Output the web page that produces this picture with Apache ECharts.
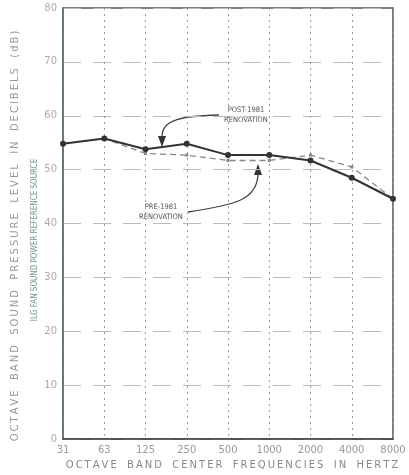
<!DOCTYPE html>
<html><head><meta charset="utf-8">
<script src="https://cdn.jsdelivr.net/npm/echarts@6/dist/echarts.min.js"></script>
<style>html,body{margin:0;padding:0;background:#fff}#c{width:409px;height:475px}</style>
</head><body><div id="c"></div>
<script>
const categories = ['31','63','125','250','500','1000','2000','4000','8000'];
const post1981 = [54.8, 55.8, 53.8, 54.8, 52.7, 52.7, 51.7, 48.5, 44.6];
const pre1981  = [54.8, 55.8, 53.0, 52.7, 51.7, 51.7, 52.7, 50.5, 44.6];
const yTicks = [0, 10, 20, 30, 40, 50, 60, 70, 80];
const yTitle = 'OCTAVE BAND SOUND PRESSURE LEVEL IN DECIBELS (dB)';
const yTitle2 = 'ILG FAN SOUND POWER REFERENCE SOURCE';
const xTitle = 'OCTAVE BAND CENTER FREQUENCIES IN HERTZ';

function spaced(s) {
  return s.split(' ').map(w => w.split('').join('\u2009')).join('\u2009\u2009  ');
}

const chart = echarts.init(document.getElementById('c'));
const font = 'DejaVu Sans';
chart.setOption({
  animation: false,
  backgroundColor: '#fff',
  grid: {left: 63, right: 16, top: 8, bottom: 29, show: true, borderColor: '#555', borderWidth: 1.5, backgroundColor: 'transparent'},
  xAxis: {
    type: 'category', data: categories, boundaryGap: false,
    axisLine: {lineStyle: {color: '#444', width: 1.5}},
    axisTick: {show: false},
    axisLabel: {color: '#999', fontFamily: font, fontSize: 10, margin: 6},
    splitLine: {show: true, lineStyle: {color: '#999', type: [2, 4], width: 1}},
    name: spaced(xTitle),
    nameLocation: 'middle', nameGap: 20,
    nameTextStyle: {color: '#888', fontFamily: font, fontSize: 10, padding: [0, 0, 0, 8]}
  },
  yAxis: {
    type: 'value', min: 0, max: 80, interval: 10,
    axisLine: {show: true, lineStyle: {color: '#5f7868', width: 1.5}},
    axisTick: {show: false},
    axisLabel: {color: '#aaa', fontFamily: font, fontSize: 10, margin: 6,
      formatter: v => yTicks.includes(v) ? String(v) : ''},
    splitLine: {show: true, lineStyle: {color: '#bbb', type: [18, 12], width: 1}}
  },
  graphic: [
    {type: 'text', x: 15, y: 236, rotation: Math.PI/2,
      style: {text: spaced(yTitle), fill: '#999', font: '10px "DejaVu Sans"', align: 'center', verticalAlign: 'middle'}},
    {type: 'text', x: 35, y: 240, rotation: Math.PI/2,
      style: {text: yTitle2, fill: '#6f9a80', font: '8px "DejaVu Sans Condensed"', align: 'center', verticalAlign: 'middle'}},
    {type: 'text', x: 246, y: 115,
      style: {text: 'POST-1981\nRENOVATION', fill: '#555', font: '7.5px "DejaVu Sans Condensed"', align: 'center', verticalAlign: 'middle', lineHeight: 10}},
    {type: 'text', x: 161, y: 212,
      style: {text: 'PRE-1981\nRENOVATION', fill: '#555', font: '7.5px "DejaVu Sans Condensed"', align: 'center', verticalAlign: 'middle', lineHeight: 10}},
    {type: 'bezierCurve', shape: {x1: 219, y1: 115, x2: 162, y2: 138, cpx1: 175, cpy1: 116, cpx2: 161, cpy2: 122},
      style: {stroke: '#444', lineWidth: 1.3, fill: null}},
    {type: 'polygon', shape: {points: [[158, 136], [166, 136], [162, 147]]}, style: {fill: '#333'}},
    {type: 'bezierCurve', shape: {x1: 188, y1: 212, x2: 258, y2: 173, cpx1: 235, cpy1: 205, cpx2: 258, cpy2: 200},
      style: {stroke: '#444', lineWidth: 1.3, fill: null}},
    {type: 'polygon', shape: {points: [[254, 175], [262, 175], [258, 164]]}, style: {fill: '#333'}}
  ],
  series: [
    {name: 'Pre-1981', type: 'line', data: pre1981, symbol: 'rect', symbolSize: 3,
      lineStyle: {color: '#888', width: 1.3, type: [6, 4]}, itemStyle: {color: '#888'}, z: 2},
    {name: 'Post-1981', type: 'line', data: post1981, symbol: 'circle', symbolSize: 6,
      lineStyle: {color: '#333', width: 2}, itemStyle: {color: '#333'}, z: 3}
  ]
});
</script></body></html>
